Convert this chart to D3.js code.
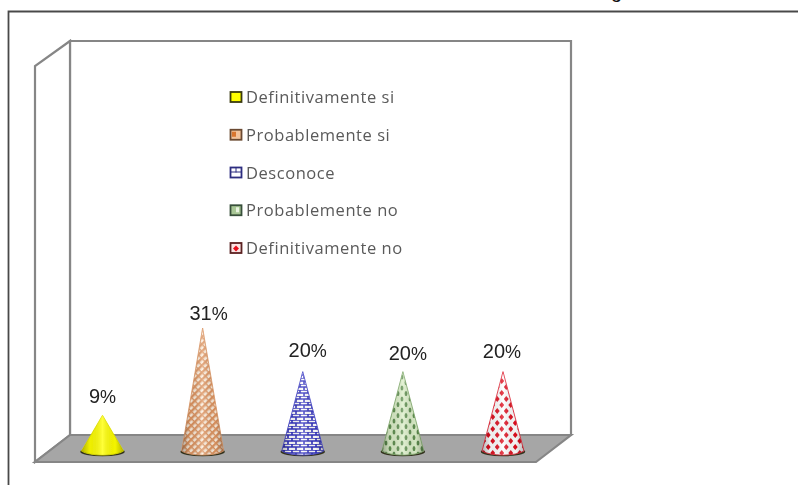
<!DOCTYPE html>
<html><head><meta charset="utf-8">
<script src="https://cdn.jsdelivr.net/npm/d3@7"></script>
<style>html,body{margin:0;padding:0;background:#fff}svg{display:block}</style>
</head><body><svg id="c" width="798" height="485"></svg>
<script>
const categories=["Definitivamente si","Probablemente si","Desconoce","Probablemente no","Definitivamente no"];
const values=[9,31,20,20,20];
const valueLabels=["9","31","20","20","20"];
const patternIds=["solid","check","brick","dots","diamonds"];
const coneEdges=["#e2e200","#dd9a6a","#4a4ac8","#86ad72","#e23040"];
const labelNudgeX=[0,6,5,5,-1];
const labelNudgeY=[-12,-8,-15,-12,-14];

const svg=d3.select("#c");
const defs=svg.append("defs");
defs.append("filter").attr("id","soft").attr("x","-5%").attr("y","-5%").attr("width","110%").attr("height","110%")
  .append("feGaussianBlur").attr("stdDeviation",0.65);

function pat(id,w,h,bg,draw){
  const p=defs.append("pattern").attr("id",id).attr("width",w).attr("height",h).attr("patternUnits","userSpaceOnUse");
  p.append("rect").attr("width",w).attr("height",h).attr("fill",bg);
  draw(p);
}
pat("solid",4,4,"#ffff00",()=>{});
pat("check",5,5,"#fdeedd",p=>{
  p.attr("patternTransform","rotate(45)");
  p.append("rect").attr("width",2.4).attr("height",5).attr("fill","#de9460");
  p.append("rect").attr("width",5).attr("height",1.4).attr("fill","#de9460");
});
pat("brick",8,6,"#ffffff",p=>{
  p.append("path").attr("d","M0 0H8M0 3H8M4 0V3M0 3V6M8 3V6").attr("stroke","#2f2fc0").attr("stroke-width",1.6).attr("fill","none");
});
pat("dots",8,11,"#dcefc9",p=>{
  p.append("ellipse").attr("cx",2).attr("cy",3).attr("rx",1.4).attr("ry",2.6).attr("fill","#5f8f50");
  p.append("ellipse").attr("cx",6).attr("cy",8.5).attr("rx",1.4).attr("ry",2.6).attr("fill","#5f8f50");
});
pat("diamonds",9,12,"#ffffff",p=>{
  p.append("path").attr("d","M2.25 0L4.7 3L2.25 6L-0.2 3ZM6.75 6L9.2 9L6.75 12L4.3 9Z").attr("fill","#e01020");
});
const shade=defs.append("linearGradient").attr("id","shade");
[[0,"#000",0.3],[0.2,"#000",0.06],[0.5,"#fff",0.22],[0.8,"#000",0.04],[1,"#000",0.28]].forEach(s=>
  shade.append("stop").attr("offset",s[0]).attr("stop-color",s[1]).attr("stop-opacity",s[2]));

const root=svg.append("g").attr("filter","url(#soft)");

// outer frame, running off the right and bottom of the picture
root.append("path").attr("d","M8.5 492V11.5H810").attr("fill","none").attr("stroke","#4a4a4a").attr("stroke-width",1.8);

// cut-off title descender at the top edge
svg.append("text").attr("x",611).attr("y",-2).attr("font-family","Liberation Sans").attr("font-size",20).attr("fill","#111").text("g");

// 3D walls and floor
const wall={x0:70,x1:571,top:41,back:435,dx:35,dy:27};
const wallStroke="#868686";
root.append("path").attr("fill","#fff").attr("stroke",wallStroke).attr("stroke-width",2.2)
  .attr("d",`M${wall.x0} ${wall.top}H${wall.x1}V${wall.back}H${wall.x0}Z`);
root.append("path").attr("fill","#fff").attr("stroke",wallStroke).attr("stroke-width",2.2)
  .attr("d",`M${wall.x0} ${wall.top}L${wall.x0-wall.dx} ${wall.top+25}V${wall.back+wall.dy}L${wall.x0} ${wall.back}Z`);
root.append("path").attr("fill","#a6a6a6").attr("stroke",wallStroke).attr("stroke-width",2.2)
  .attr("d",`M${wall.x0} ${wall.back}H${wall.x1}L${wall.x1-wall.dx} ${wall.back+wall.dy}H${wall.x0-wall.dx}Z`);

// scales
const x=d3.scalePoint().domain(categories).range([102.5,503]);
const y=d3.scaleLinear().domain([0,31]).range([451,328]);
const rx=21, ry=4.5;

function conePath(cx,apex){
  const p=d3.path();
  p.moveTo(cx,apex);
  p.lineTo(cx+rx,y(0));
  p.bezierCurveTo(cx+rx*0.6,y(0)+ry*1.2,cx-rx*0.6,y(0)+ry*1.2,cx-rx,y(0));
  p.closePath();
  return p.toString();
}
const cones=root.selectAll("g.cone").data(categories).join("g").attr("class","cone");
cones.append("ellipse").attr("cx",d=>x(d)).attr("cy",y(0)+0.8).attr("rx",rx+1.2).attr("ry",ry).attr("fill","#33331f");
cones.append("path").attr("d",(d,i)=>conePath(x(d),y(values[i]))).attr("fill",(d,i)=>`url(#${patternIds[i]})`)
  .attr("stroke",(d,i)=>coneEdges[i]).attr("stroke-width",0.9).attr("stroke-linejoin","round");
cones.append("path").attr("d",(d,i)=>conePath(x(d),y(values[i]))).attr("fill","url(#shade)");

// value labels
const lab=root.selectAll("text.v").data(categories).join("text").attr("class","v")
  .attr("x",(d,i)=>x(d)+labelNudgeX[i]).attr("y",(d,i)=>y(values[i])+labelNudgeY[i])
  .attr("text-anchor","middle").attr("font-family","Liberation Sans").attr("font-size",20).attr("fill","#222");
lab.append("tspan").text((d,i)=>valueLabels[i]);
lab.append("tspan").attr("font-size",18).text("%");

// legend
const ly=d3.scalePoint().domain(categories).range([97,248]);
const legendFill=["#ffff00","#f3c39c","#ffffff","#a9c796","#fbe3e3"];
const legendStroke=["#3a3a10","#6b4a30","#2d2d80","#37503a","#5a2020"];
const legendMark=["#ffff00","#d9752f","#2d2d80","#e8f3df","#e8101c"];
const lg=root.selectAll("g.l").data(categories).join("g").attr("class","l").attr("transform",d=>`translate(230,${ly(d)})`);
lg.append("rect").attr("x",0.5).attr("y",-5).attr("width",11).attr("height",10)
  .attr("fill",(d,i)=>legendFill[i]).attr("stroke",(d,i)=>legendStroke[i]).attr("stroke-width",1.8);
lg.append("path").attr("fill",(d,i)=>legendMark[i]).attr("stroke",(d,i)=>i===2?legendMark[i]:"none")
  .attr("d",(d,i)=>["","M2 -3h4v5h-4z","M1 -0.5h10M6 -5v5","M6 -3h3v5h-3z","M6 -2.5L9 0.5L6 3.5L3 0.5Z"][i]);
lg.append("text").attr("x",16).attr("y",6).attr("font-family","Open Sans").attr("font-size",16.5).attr("letter-spacing",0.55).attr("fill","#5a5a5a").text(d=>d);
</script></body></html>
